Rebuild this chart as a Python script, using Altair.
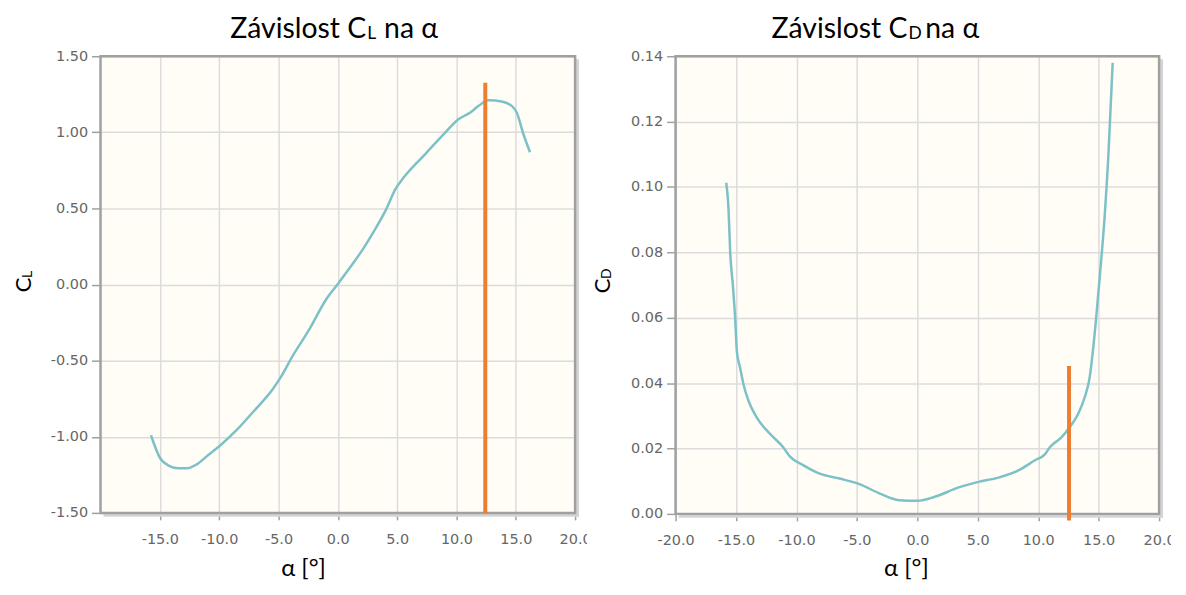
import altair as alt
import pandas as pd

# ---------------- data ----------------
alpha_cl = [-15.75, -14.97, -14.27, -13.43, -12.73, -11.89, -10.92, -9.94, -8.54, -7.14,
            -5.46, -4.90, -3.79, -2.39, -0.99, 0.07, 1.10, 2.08, 3.20, 4.04, 4.88, 5.58,
            7.39, 9.07, 10.19, 11.17, 11.87, 12.71, 13.82, 14.66, 15.08, 15.64, 16.20]
cl_vals = [-0.99, -1.141, -1.189, -1.207, -1.207, -1.181, -1.12, -1.059, -0.957, -0.837,
           -0.685, -0.62, -0.467, -0.293, -0.098, 0.011, 0.12, 0.228, 0.37, 0.489, 0.63, 0.706,
           0.859, 1.0, 1.087, 1.13, 1.174, 1.211, 1.202, 1.174, 1.13, 0.989, 0.869]

alpha_cd = [-15.81, -15.62, -15.48, -15.26, -15.07, -14.93, -14.66, -14.38, -13.97, -13.29,
            -12.19, -11.10, -10.55, -9.45, -8.08, -6.44, -4.79, -3.15, -1.51, 0.0, 1.51,
            3.42, 5.07, 6.71, 8.36, 9.73, 10.55, 10.96, 11.92, 12.60, 13.29, 13.84, 14.25,
            14.52, 14.79, 15.15, 15.48, 15.81, 16.16]
cd_vals = [0.1013, 0.0932, 0.080, 0.0699, 0.0598, 0.0497, 0.0447, 0.0396, 0.0346, 0.0295,
           0.0245, 0.0204, 0.0176, 0.0149, 0.0123, 0.0108, 0.0091, 0.0063, 0.0042, 0.0040,
           0.0053, 0.0081, 0.0098, 0.0111, 0.0133, 0.0164, 0.0182, 0.0204, 0.0234, 0.0265,
           0.0305, 0.0356, 0.0416, 0.0497, 0.0598, 0.075, 0.0901, 0.110, 0.138]

marker_cl = {"a": [12.43], "top": [1.326], "bottom": [-1.50]}
marker_cd = {"a": [12.55], "top": [0.0452], "bottom": [-0.002]}

x_ticks_left = [-15, -10, -5, 0, 5, 10, 15, 20]
x_ticks_right = [-20, -15, -10, -5, 0, 5, 10, 15, 20]
y_ticks_cl = [-1.5, -1.0, -0.5, 0.0, 0.5, 1.0, 1.5]
y_ticks_cd = [0.0, 0.02, 0.04, 0.06, 0.08, 0.10, 0.12, 0.14]

title_main = "Závislost C"
title_rest = "na α"
sub_left = "L"
sub_right = "D"
x_title = "α [°]"
y_main = "C"

# ---------------- style ----------------
W1, H1 = 477, 459
W2, H2 = 486, 460
LINE = "#7cc1c8"
ORANGE = "#ed7d31"
BG = "#fffdf6"
BORDER = "#a0a0a0"
SHADOW = "#d4d4d4"
GRID = "#dcdcdc"
TFONT = "Lato"
LFONT = "DejaVu Sans"

one = alt.Data(values=[{"k": 0}])


def txt(s, x, y, size, align="left", angle=0):
    return alt.Chart(one).mark_text(
        font=TFONT, fontSize=size, color="black", align=align,
        baseline="alphabetic", angle=angle
    ).encode(x=alt.value(x), y=alt.value(y), text=alt.value(s))


def box(x1, x2, y1, y2, color):
    return alt.Chart(one).mark_rect(color=color).encode(
        x=alt.value(x1), x2=alt.value(x2), y=alt.value(y1), y2=alt.value(y2))


def lab(fmt):
    return "(datum.value < 0 ? '-' : '') + format(abs(datum.value), '" + fmt + "')"


def panel(adata, vdata, marker, xticks, yticks, ydom, W, H, sub,
          tx, ytx, ytt, xt, anchor=False):
    df = pd.DataFrame({"a": adata, "v": vdata})
    mdf = pd.DataFrame(marker)
    xaxis = alt.Axis(values=xticks, labelExpr=lab(".1f"), title=None, grid=True,
                     gridColor=GRID, gridWidth=1.5, domain=False, tickColor=BORDER,
                     tickSize=7, tickWidth=1.5, labelFont=LFONT, labelFontSize=14.5,
                     labelColor="#666666", labelPadding=13, labelFlush=False,
                     labelOverlap=False)
    yaxis = alt.Axis(values=yticks, labelExpr=lab(".2f"), title=None, grid=True,
                     gridColor=GRID, gridWidth=1.5, domain=False, tickColor=BORDER,
                     tickSize=9, tickWidth=1.5, labelFont=LFONT, labelFontSize=14.5,
                     labelColor="#666666", labelPadding=4, labelFlush=False,
                     labelOverlap=False)
    xs = alt.Scale(domain=[-20, 20], nice=False, zero=False)
    ys = alt.Scale(domain=ydom, nice=False, zero=False)
    base = alt.Chart(df).mark_line(color=LINE, strokeWidth=2.5, interpolate="monotone").encode(
        x=alt.X("a:Q", scale=xs, axis=xaxis),
        y=alt.Y("v:Q", scale=ys, axis=yaxis),
    )
    rule = alt.Chart(mdf).mark_rule(color=ORANGE, strokeWidth=4).encode(
        x=alt.X("a:Q", scale=xs), y=alt.Y("top:Q", scale=ys), y2="bottom:Q")
    shadow_r = box(W + 1, W + 4, 3, H + 4, SHADOW)
    shadow_b = box(3, W + 4, H + 1, H + 4, SHADOW)
    border = alt.Chart(one).mark_rect(filled=False, stroke=BORDER, strokeWidth=2.5).encode(
        x=alt.value(0), x2=alt.value(W), y=alt.value(0), y2=alt.value(H))
    clip = box(W + 12, W + 18, H + 16, H + 40, "white")
    layers = [base, shadow_r, shadow_b, border, rule, clip,
              txt(title_main, tx, -18, 28.5, align="right"),
              txt(sub, tx + 1, -17, 17.5),
              txt(title_rest, tx + 18, -18, 28.5),
              txt(y_main, ytx, ytt, 22, align="center", angle=270),
              txt(sub, ytx + 1, ytt - 7, 14, angle=270),
              txt(x_title, xt, 522, 24, align="center")]
    if anchor:
        layers.append(alt.Chart(one).mark_rule(color="white", strokeWidth=1).encode(
            x=alt.value(-92), y=alt.value(-46), y2=alt.value(-45)))
    return alt.layer(*layers).properties(width=W, height=H)


left = panel(alpha_cl, cl_vals, marker_cl, x_ticks_left, y_ticks_cl, [-1.5, 1.5],
             W1, H1, sub_left, 267, -70, 230, 204, anchor=True)
right = panel(alpha_cd, cd_vals, marker_cd, x_ticks_right, y_ticks_cd, [0, 0.14],
              W2, H2, sub_right, 233, -66, 231, 232)

chart = alt.hconcat(left, right, spacing=101, bounds="flush").properties(
    padding=0
).configure_view(fill=BG, stroke="transparent")

chart.save("out.html", embed_options={"renderer": "svg", "actions": False})
